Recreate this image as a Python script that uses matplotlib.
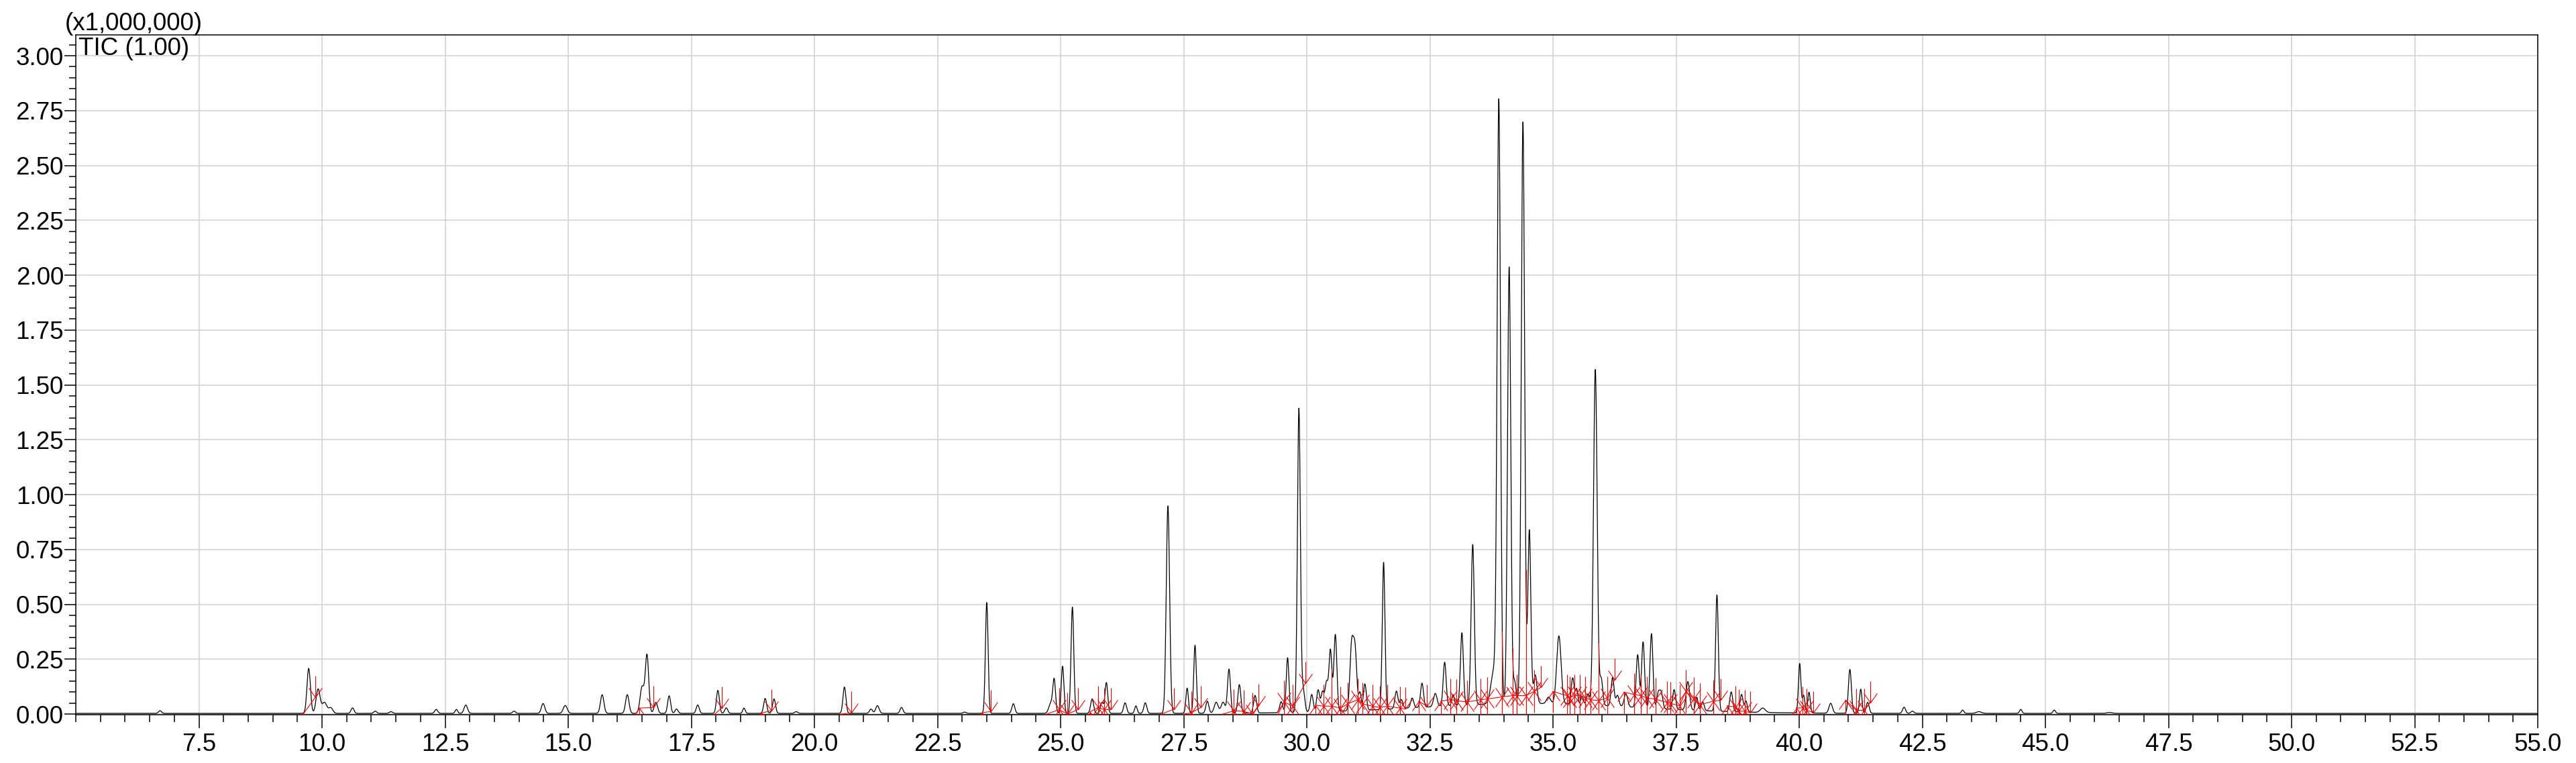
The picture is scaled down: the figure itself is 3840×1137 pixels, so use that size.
import numpy as np
import matplotlib
matplotlib.use("Agg")
import matplotlib.pyplot as plt
from matplotlib.path import Path
from matplotlib.ticker import MultipleLocator, FormatStrFormatter

plt.rcParams["font.family"] = ["Liberation Sans", "DejaVu Sans"]

# TIC peaks (x1,000,000 counts)
peak_rt = [6.71, 9.73, 9.92, 10.05, 10.18, 10.62, 11.08, 11.40, 12.32, 12.73,
           12.92, 13.90, 14.49, 14.94, 15.69, 16.20, 16.50, 16.60, 16.78, 17.05,
           17.20, 17.63, 18.04, 18.21, 18.57, 19.00, 19.18, 19.63, 20.61, 21.15,
           21.28, 21.77, 23.05, 23.50, 24.04, 24.80, 24.87, 25.04, 25.24, 25.64,
           25.84, 25.93, 26.31, 26.53, 26.72, 27.18, 27.57, 27.73, 27.98, 28.16,
           28.30, 28.42, 28.63, 28.95, 29.48, 29.61, 29.84, 29.93, 30.10, 30.23,
           30.32, 30.40, 30.48, 30.58, 30.91, 30.98, 31.08, 31.18, 31.56, 31.82,
           31.92, 32.14, 32.34, 32.61, 32.80, 32.97, 33.15, 33.37, 33.90, 34.11,
           34.22, 34.39, 34.52, 34.64, 34.91, 35.12, 35.40, 35.48, 35.59, 35.71,
           35.86, 35.98, 36.21, 36.31, 36.48, 36.72, 36.83, 37.00, 37.14, 37.20,
           37.46, 37.74, 37.92, 38.04, 38.33, 38.62, 38.83, 38.92, 39.26, 40.01,
           40.09, 40.20, 40.64, 41.03, 41.25, 41.39, 42.13, 42.30, 43.32, 43.65,
           44.50, 45.18, 46.30, 33.80]
peak_h = [0.012, 0.205, 0.110, 0.050, 0.025, 0.025, 0.010, 0.008, 0.018, 0.018,
          0.038, 0.010, 0.045, 0.036, 0.085, 0.085, 0.120, 0.265, 0.050, 0.080,
          0.020, 0.038, 0.105, 0.025, 0.024, 0.068, 0.066, 0.008, 0.120, 0.020,
          0.035, 0.027, 0.006, 0.505, 0.044, 0.045, 0.150, 0.215, 0.485, 0.065,
          0.050, 0.140, 0.048, 0.034, 0.048, 0.945, 0.115, 0.310, 0.055, 0.050,
          0.050, 0.200, 0.130, 0.080, 0.050, 0.250, 1.385, 0.100, 0.080, 0.100,
          0.090, 0.130, 0.280, 0.350, 0.290, 0.270, 0.080, 0.120, 0.670, 0.080,
          0.040, 0.045, 0.110, 0.060, 0.200, 0.050, 0.330, 0.730, 2.720, 1.990,
          0.100, 2.650, 0.790, 0.130, 0.030, 0.310, 0.120, 0.070, 0.040, 0.050,
          1.530, 0.120, 0.130, 0.050, 0.060, 0.240, 0.300, 0.340, 0.070, 0.070,
          0.090, 0.130, 0.060, 0.040, 0.530, 0.090, 0.080, 0.050, 0.020, 0.225,
          0.080, 0.095, 0.045, 0.200, 0.110, 0.050, 0.028, 0.010, 0.015, 0.008,
          0.018, 0.015, 0.004, 0.150]
peak_w = [0.030, 0.035, 0.040, 0.050, 0.040, 0.030, 0.030, 0.030, 0.030, 0.025,
          0.035, 0.030, 0.035, 0.040, 0.035, 0.035, 0.040, 0.035, 0.035, 0.030,
          0.030, 0.030, 0.030, 0.030, 0.025, 0.030, 0.030, 0.030, 0.030, 0.030,
          0.035, 0.030, 0.030, 0.027, 0.030, 0.040, 0.028, 0.027, 0.028, 0.030,
          0.030, 0.028, 0.030, 0.025, 0.030, 0.034, 0.025, 0.026, 0.030, 0.040,
          0.040, 0.030, 0.030, 0.030, 0.030, 0.027, 0.030, 0.030, 0.030, 0.030,
          0.030, 0.030, 0.030, 0.030, 0.035, 0.035, 0.025, 0.030, 0.027, 0.030,
          0.030, 0.030, 0.030, 0.035, 0.030, 0.025, 0.030, 0.032, 0.034, 0.033,
          0.030, 0.034, 0.030, 0.035, 0.040, 0.045, 0.030, 0.025, 0.025, 0.030,
          0.037, 0.030, 0.030, 0.030, 0.035, 0.030, 0.030, 0.030, 0.030, 0.030,
          0.030, 0.035, 0.025, 0.030, 0.028, 0.030, 0.030, 0.025, 0.050, 0.025,
          0.025, 0.025, 0.035, 0.030, 0.025, 0.030, 0.030, 0.030, 0.025, 0.050,
          0.025, 0.025, 0.050, 0.060]

# unresolved hump under the crowded 30-38 min region
hump_rt = [34.5]
hump_h = [0.045]
hump_w = [2.2]

# integration baselines: boundary points, grouped into chains
bnd_group = ([1] * 2 + [2] * 2 + [3] * 2 + [4] * 2 + [5] * 2 + [6] * 2 + [7] * 4 + [8] * 4
             + [9] * 2 + [10] * 3 + [11] * 5 + [12] * 4 + [13] * 12 + [14] * 2 + [15] * 12
             + [16] * 10 + [17] * 13 + [18] * 5 + [19] * 4 + [20] * 4)
bnd_rt = [9.62, 9.86,
          16.44, 16.73,
          17.98, 18.12,
          18.93, 19.13,
          20.54, 20.75,
          23.40, 23.58,
          24.72, 24.97, 25.14, 25.35,
          25.60, 25.76, 25.88, 26.02,
          27.05, 27.30,
          27.50, 27.65, 27.85,
          28.30, 28.52, 28.72, 28.90, 29.02,
          29.42, 29.54, 29.71, 29.97,
          30.18, 30.34, 30.51, 30.68, 30.83, 31.03, 31.13, 31.33, 31.48, 31.64, 31.89, 32.00,
          32.27, 32.44,
          32.72, 32.91, 33.04, 33.25, 33.53, 33.67, 33.97, 34.18, 34.26, 34.45, 34.62, 34.76,
          35.00, 35.28, 35.34, 35.44, 35.55, 35.65, 35.76, 35.93, 36.10, 36.25,
          36.44, 36.65, 36.78, 36.91, 37.08, 37.31, 37.39, 37.57, 37.70, 37.86, 37.99, 38.25, 38.41,
          38.54, 38.71, 38.78, 38.89, 39.00,
          39.94, 40.07, 40.15, 40.29,
          40.94, 41.16, 41.32, 41.44]
bnd_y = [0.000, 0.075,
         0.027, 0.030,
         0.000, 0.028,
         0.005, 0.015,
         0.000, 0.005,
         0.005, 0.012,
         0.000, 0.020, 0.000, 0.020,
         0.010, 0.030, 0.020, 0.020,
         0.000, 0.022,
         0.000, 0.005, 0.030,
         0.000, 0.015, 0.012, 0.000, 0.040,
         0.000, 0.055, 0.036, 0.140,
         0.040, 0.036, 0.036, 0.027, 0.046, 0.065, 0.046, 0.036, 0.030, 0.036, 0.027, 0.023,
         0.059, 0.036,
         0.059, 0.065, 0.061, 0.055, 0.065, 0.069, 0.078, 0.084, 0.084, 0.084, 0.103, 0.122,
         0.103, 0.084, 0.074, 0.084, 0.084, 0.074, 0.065, 0.061, 0.074, 0.156,
         0.100, 0.089, 0.084, 0.073, 0.068, 0.053, 0.048, 0.038, 0.104, 0.069, 0.043, 0.058, 0.063,
         0.038, 0.031, 0.014, 0.012, 0.007,
         0.028, 0.028, 0.017, 0.007,
         0.063, 0.017, 0.017, 0.053]

# peak split (drop) lines
drop_rt = [29.71, 30.51, 31.03, 33.97, 34.18, 34.26, 34.45, 35.93, 36.65, 36.78,
           36.91, 37.08, 37.86, 37.99, 38.25, 38.71, 38.89]

# build the trace from the peak table
t = np.linspace(5.0, 55.0, 20001)
tic = np.full_like(t, 0.003)
for rt, h, w in zip(peak_rt + hump_rt, peak_h + hump_h, peak_w + hump_w):
    tic += h * np.exp(-0.5 * ((t - rt) / w) ** 2)

# integration arrow markers
end_mark = Path([(-0.31, 0.44), (0, 0), (0.31, 0.44), (0, 0), (0, 1)],
                [Path.MOVETO, Path.LINETO, Path.LINETO, Path.MOVETO, Path.LINETO])
start_mark = Path([(-0.31, -0.44), (0, 0), (0.31, -0.44), (0, 0), (0, -1)],
                  [Path.MOVETO, Path.LINETO, Path.LINETO, Path.MOVETO, Path.LINETO])

fig = plt.figure(figsize=(38.4, 11.37), dpi=100)
ax = fig.add_axes([113 / 3840, 72 / 1137, 3670 / 3840, 1013 / 1137])

ax.plot(t, tic, color="black", lw=0.9, zorder=3)

red = "#ff0000"
grp = np.array(bnd_group)
brt = np.array(bnd_rt)
by = np.array(bnd_y)
for g in np.unique(grp):
    m = grp == g
    xs, ys = brt[m], by[m]
    ax.plot(xs, ys, color=red, lw=0.8, zorder=4)
    ax.plot(xs[:-1], ys[:-1], ls="none", marker=start_mark, ms=46, mew=0.8,
            mec=red, mfc="none", zorder=4)
    ax.plot(xs[1:], ys[1:], ls="none", marker=end_mark, ms=46, mew=0.8,
            mec=red, mfc="none", zorder=4)

drop_top = np.interp(drop_rt, t, tic)
ax.vlines(drop_rt, 0, drop_top, color=red, lw=0.8, zorder=4)

ax.set_xlim(5.0, 55.0)
ax.set_ylim(-0.003, 3.095)
ax.set_xticks(np.arange(7.5, 55.01, 2.5))
ax.xaxis.set_minor_locator(MultipleLocator(0.5))
ax.xaxis.set_major_formatter(FormatStrFormatter("%.1f"))
ax.set_yticks(np.arange(0, 3.01, 0.25))
ax.yaxis.set_minor_locator(MultipleLocator(0.05))
ax.yaxis.set_major_formatter(FormatStrFormatter("%.2f"))

ax.grid(True, which="major", color="#d0d0d0", lw=1.1, zorder=0)
ax.tick_params(axis="x", which="major", length=14.4, width=1.1, pad=5, labelsize=26.5)
ax.tick_params(axis="x", which="minor", length=8, width=1.1)
ax.tick_params(axis="y", which="major", length=12, width=1.1, pad=1, labelsize=26.5)
ax.tick_params(axis="y", which="minor", length=7, width=1.1)
for s in ax.spines.values():
    s.set_linewidth(1.1)

fig.text(97 / 3840, 1 - 45 / 1137, "(x1,000,000)", fontsize=26.5, va="baseline", ha="left")
fig.text(117 / 3840, 1 - 82 / 1137, "TIC (1.00)", fontsize=26.5, va="baseline", ha="left")

fig.savefig("out.png", dpi=100)
